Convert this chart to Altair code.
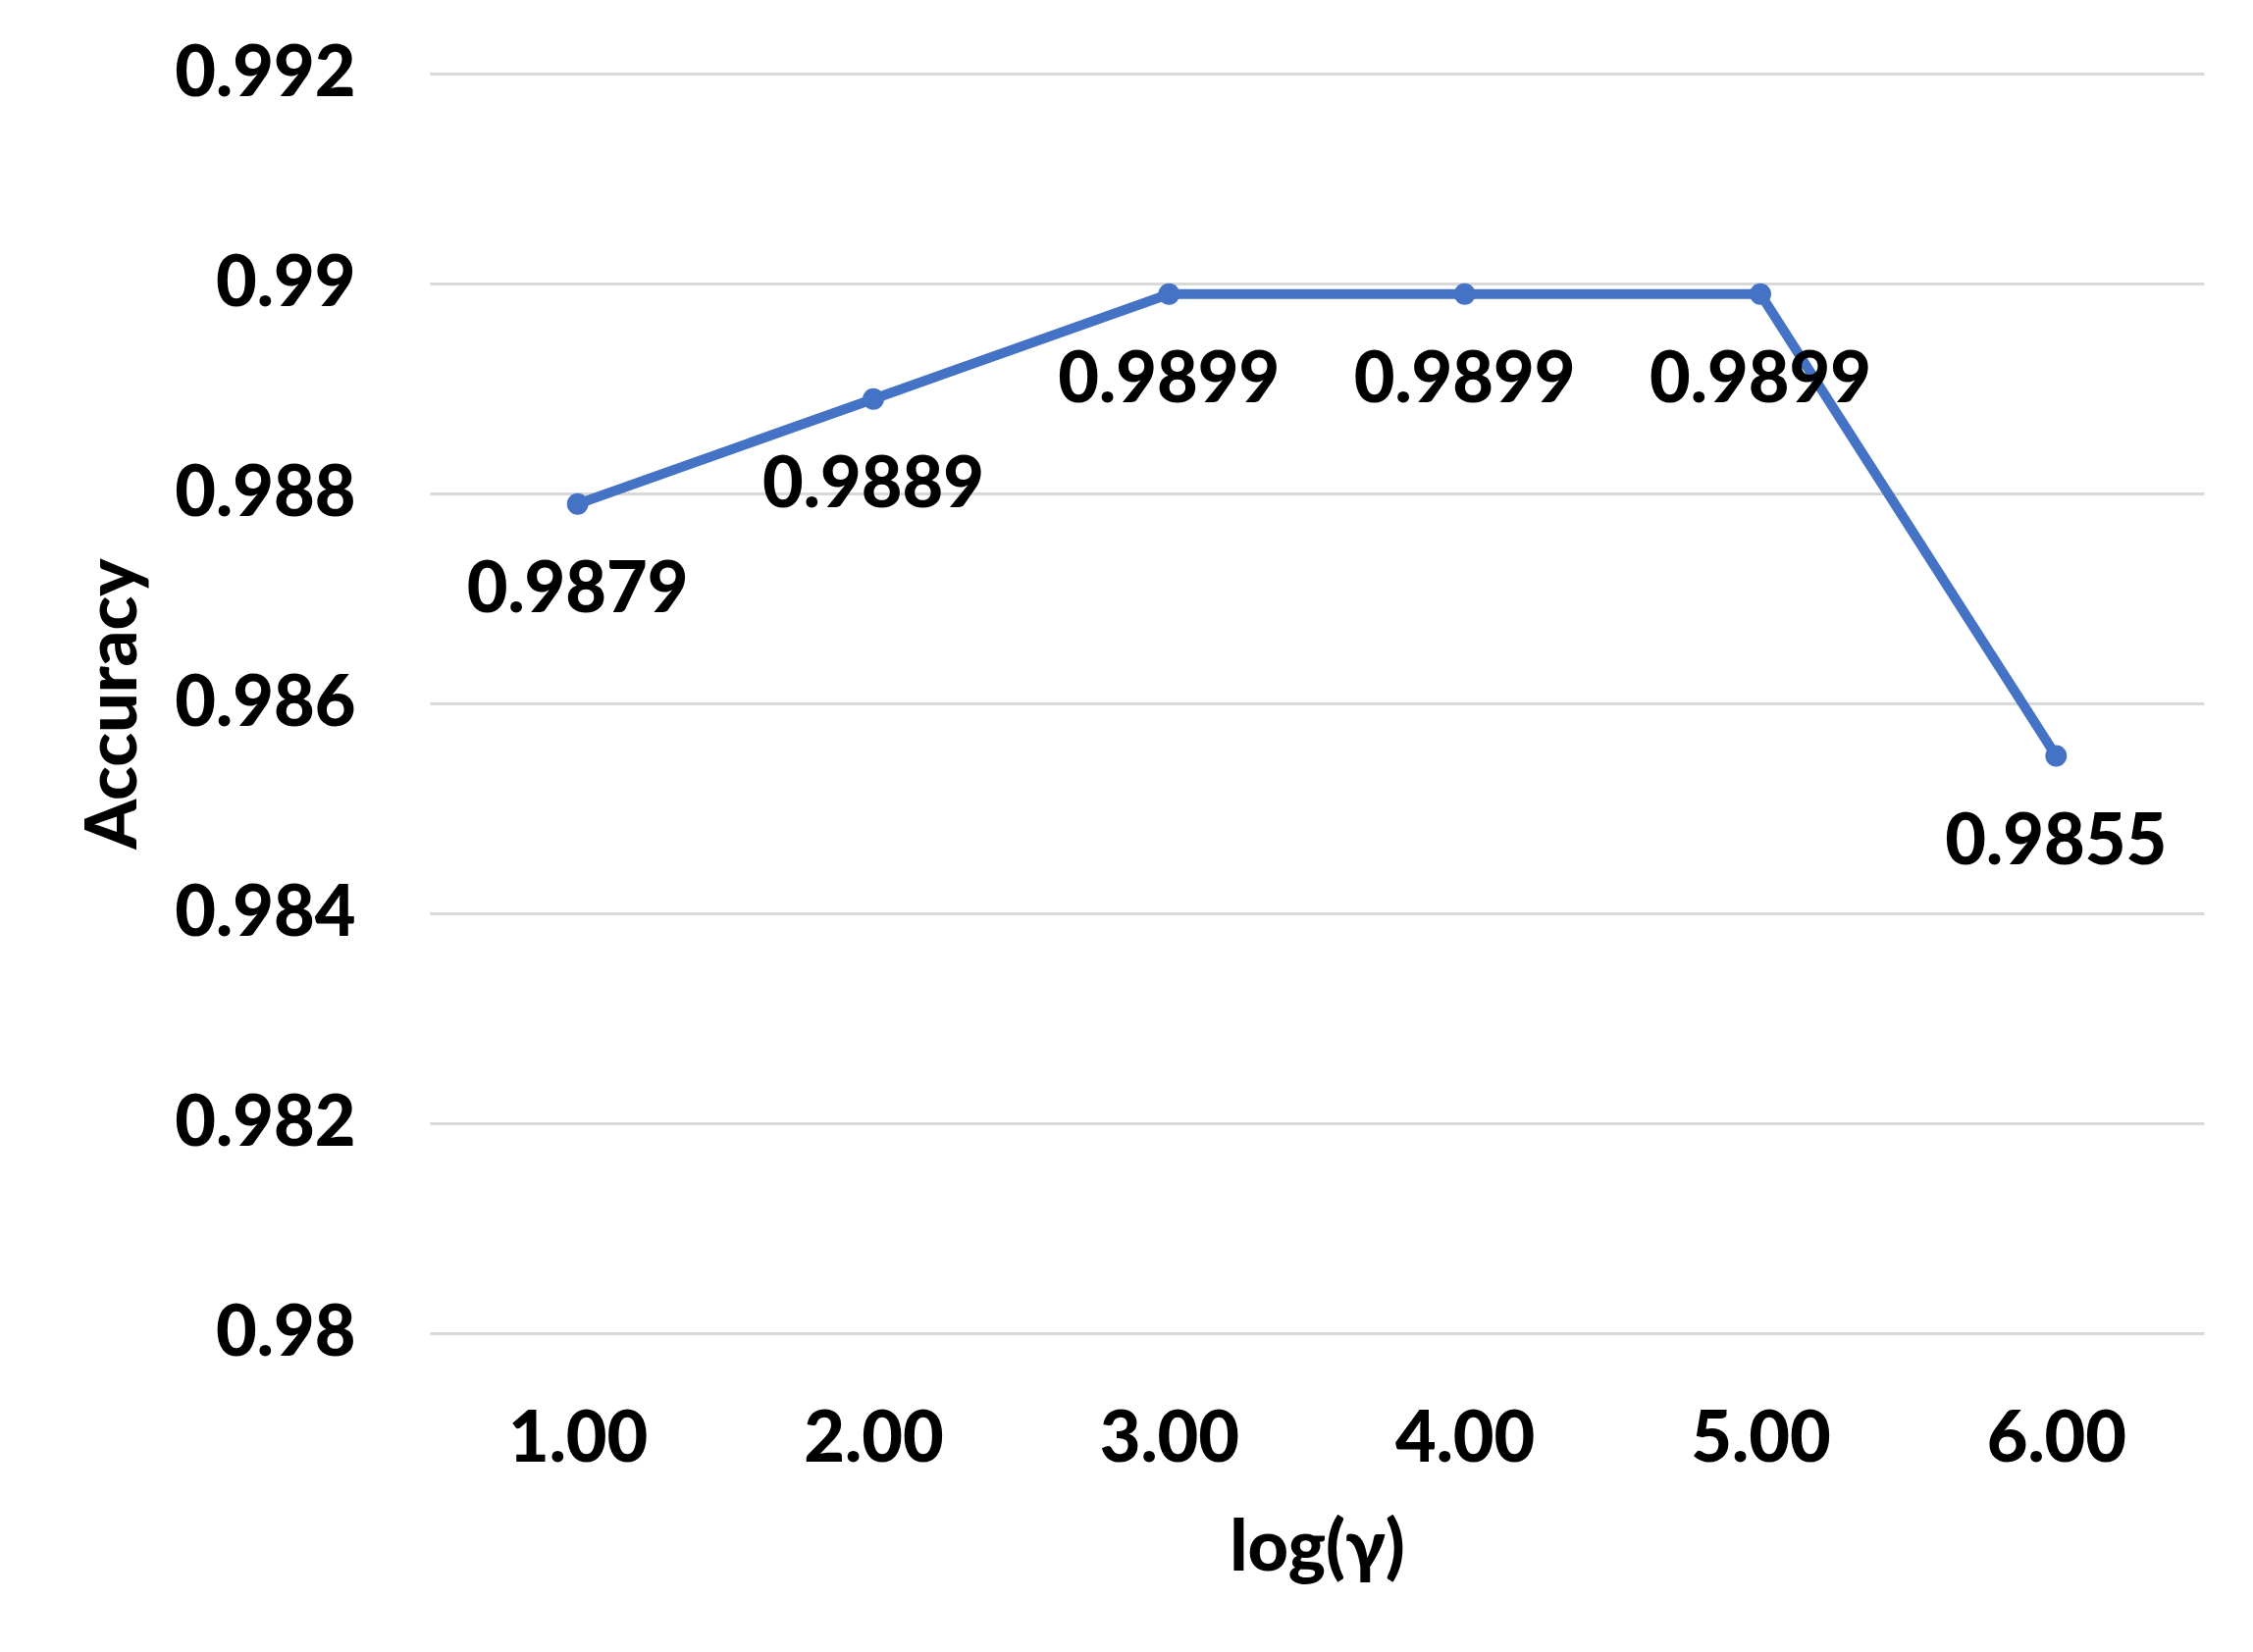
import altair as alt
import pandas as pd

x_labels = ["1.00", "2.00", "3.00", "4.00", "5.00", "6.00"]
accuracy = [0.9879, 0.9889, 0.9899, 0.9899, 0.9899, 0.9855]
y_ticks = [0.98, 0.982, 0.984, 0.986, 0.988, 0.99, 0.992]

df = pd.DataFrame({"x": x_labels, "acc": accuracy,
                   "label": [f"{v:.4f}" for v in accuracy]})

FONT = "Lato"
BLUE = "#4472C4"
WEIGHT = 900

x_enc = alt.X("x:N", sort=x_labels,
              scale=alt.Scale(type="point", padding=0.5),
              axis=alt.Axis(title="log(γ)", labelAngle=0, ticks=False, domain=False,
                            labelPadding=73, labelBaseline="top", labelLimit=0,
                            titleY=219, titleBaseline="middle"))
y_enc = alt.Y("acc:Q",
              scale=alt.Scale(domain=[0.98, 0.992], nice=False, zero=False),
              axis=alt.Axis(title="Accuracy", values=y_ticks, format=".3~f",
                            ticks=False, domain=False, labelPadding=76, labelLimit=0,
                            titleX=-322, titleY=642, titleAlign="center",
                            titleBaseline="middle",
                            gridColor="#d9d9d9", gridWidth=3))

base = alt.Chart(df).encode(x=x_enc, y=y_enc)

line = base.mark_line(color=BLUE, strokeWidth=10)
points = base.mark_point(filled=True, color=BLUE, size=480, opacity=1, shape="circle")
labels = base.mark_text(dy=88, fontSize=72, fontWeight=WEIGHT, font=FONT,
                        color="black", baseline="middle", align="center").encode(text="label:N")

chart = (line + points + labels).properties(
    width=1808, height=1284,
    autosize=alt.AutoSizeParams(type="none"),
    padding={"left": 430, "top": 67, "right": 40, "bottom": 300},
).configure_axis(
    labelFont=FONT, titleFont=FONT, labelFontSize=72, titleFontSize=72,
    labelFontWeight=WEIGHT, titleFontWeight=WEIGHT,
    labelColor="black", titleColor="black",
).configure_axisX(grid=False).configure_view(stroke=None)

chart.save("out.html", embed_options={"renderer": "svg", "actions": False})
